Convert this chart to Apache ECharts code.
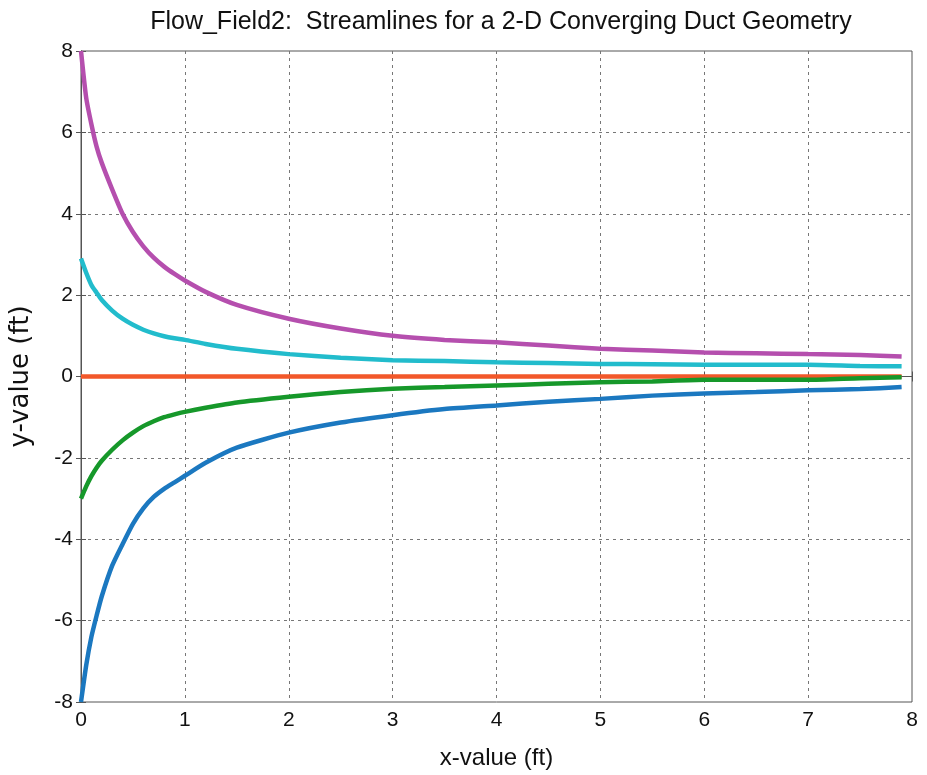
<!DOCTYPE html>
<html>
<head>
<meta charset="utf-8">
<script src="https://cdn.jsdelivr.net/npm/echarts@6/dist/echarts.min.js"></script>
<style>
  html, body { margin: 0; padding: 0; background: #fff; }
  #chart { width: 927px; height: 775px; }
</style>
</head>
<body>
<div id="chart"></div>
<script>
var xs = [0, 0.05, 0.1, 0.15, 0.2, 0.3, 0.4, 0.5, 0.6, 0.7, 0.8, 0.9, 1.0, 1.2, 1.5, 2.0, 2.5, 3.0, 3.5, 4.0, 4.5, 5.0, 5.5, 6.0, 6.5, 7.0, 7.5, 7.9]

var magenta = [8.0, 6.85, 6.2, 5.65, 5.25, 4.6, 4.0, 3.55, 3.2, 2.92, 2.7, 2.52, 2.36, 2.08, 1.76, 1.42, 1.18, 1.0, 0.9, 0.84, 0.76, 0.68, 0.64, 0.59, 0.57, 0.55, 0.53, 0.49]
var cyan = [2.9, 2.55, 2.25, 2.06, 1.88, 1.62, 1.42, 1.27, 1.15, 1.06, 0.99, 0.94, 0.9, 0.8, 0.68, 0.55, 0.46, 0.4, 0.38, 0.35, 0.33, 0.31, 0.3, 0.29, 0.29, 0.29, 0.26, 0.25]
var orange = [0, 0, 0, 0, 0, 0, 0, 0, 0, 0, 0, 0, 0, 0, 0, 0, 0, 0, 0, 0, 0, 0, 0, 0, 0, 0, 0, 0]
var green = [-3.0, -2.7, -2.45, -2.24, -2.07, -1.8, -1.57, -1.38, -1.22, -1.1, -1.0, -0.93, -0.87, -0.77, -0.64, -0.5, -0.38, -0.3, -0.26, -0.22, -0.18, -0.14, -0.12, -0.08, -0.08, -0.08, -0.04, -0.02]
var blue = [-8.0, -7.1, -6.4, -5.88, -5.4, -4.65, -4.12, -3.62, -3.24, -2.96, -2.76, -2.6, -2.44, -2.12, -1.75, -1.38, -1.13, -0.95, -0.8, -0.71, -0.62, -0.55, -0.47, -0.42, -0.38, -0.34, -0.31, -0.26]

function pairs(ys) {
  var out = []
  for (var i = 0; i < xs.length; i++) {
    out.push([xs[i], ys[i]])
  }
  return out
}

function line(name, color, ys) {
  return {
    name: name,
    type: 'line',
    data: pairs(ys),
    smooth: 0.2,
    symbol: 'none',
    animation: false,
    lineStyle: { color: color, width: 4.5 }
  }
}

var font = 'Liberation Sans, Arial, sans-serif'
var wide = 'DejaVu Sans, sans-serif'
var frame = '#555'
var gridLine = { show: true, showMinLine: false, showMaxLine: false, lineStyle: { color: '#777', type: [3, 4], width: 1 } }

var chart = echarts.init(document.getElementById('chart'))
chart.setOption({
  backgroundColor: '#fff',
  title: {
    text: 'Flow_Field2:  Streamlines for a 2-D Converging Duct Geometry',
    left: 496,
    textAlign: 'center',
    top: 5,
    textStyle: { fontFamily: font, fontSize: 25, fontWeight: 'normal', color: '#111' }
  },
  grid: { left: 81, right: 15, top: 51, bottom: 70, show: true, borderColor: frame, borderWidth: 1 },
  xAxis: [{
    type: 'value',
    min: 0,
    max: 8,
    interval: 1,
    name: 'x-value (ft)',
    nameLocation: 'middle',
    nameGap: 44,
    nameTextStyle: { fontFamily: font, fontSize: 24, color: '#111' },
    axisLine: { lineStyle: { color: frame } },
    axisTick: { inside: true, length: 5, lineStyle: { color: frame } },
    axisLabel: { fontFamily: font, fontSize: 21, color: '#111', margin: 8 },
    splitLine: gridLine
  }, {
    type: 'value',
    position: 'top',
    min: 0,
    max: 8,
    interval: 1,
    axisLine: { show: true, lineStyle: { color: frame } },
    axisTick: { inside: true, length: 5, lineStyle: { color: frame } },
    axisLabel: { show: false },
    splitLine: { show: false }
  }],
  yAxis: [{
    type: 'value',
    min: -8,
    max: 8,
    interval: 2,
    name: 'y-value (ft)',
    nameLocation: 'middle',
    nameGap: 47,
    nameTextStyle: { fontFamily: wide, fontSize: 26, color: '#111' },
    axisLine: { show: true, lineStyle: { color: frame } },
    axisTick: { show: true, inside: true, length: 5, lineStyle: { color: frame } },
    axisLabel: { fontFamily: font, fontSize: 21, color: '#111', margin: 8 },
    splitLine: gridLine
  }, {
    type: 'value',
    position: 'right',
    min: -8,
    max: 8,
    interval: 2,
    axisLine: { show: true, lineStyle: { color: frame } },
    axisTick: { show: true, inside: true, length: 5, lineStyle: { color: frame } },
    axisLabel: { show: false },
    splitLine: { show: false }
  }],
  series: [
    line('magenta', '#b54fae', magenta),
    line('cyan', '#22bccc', cyan),
    line('orange', '#f2582a', orange),
    line('green', '#16982a', green),
    line('blue', '#1b78c0', blue)
  ]
})
</script>
</body>
</html>
